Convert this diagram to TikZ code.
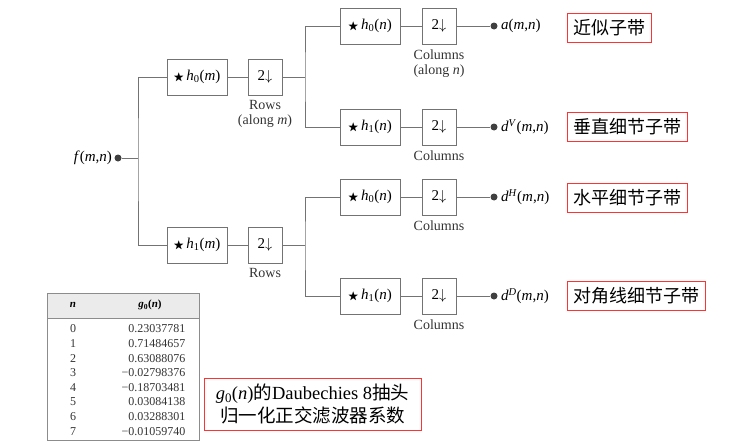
\documentclass[tikz,border=0pt]{standalone}
\usepackage{amssymb}
\usepackage{fontspec}
\setmainfont{Liberation Serif}
\newfontfamily\cjk{Noto Sans CJK SC}
\newcommand{\iv}[1]{\textit{#1}}
\newcommand{\conv}{{\fontsize{11}{12}\selectfont$\bigstar$}\,}
\begin{document}
\begin{tikzpicture}[x=1pt,y=-1pt,
  line width=0.6pt,
  wire/.style={draw=black!55},
  filt/.style={draw=black!55,minimum width=60pt,minimum height=36pt,inner sep=0pt,font=\fontsize{15}{17}\selectfont},
  down/.style={draw=black!55,minimum width=34pt,minimum height=36pt,inner sep=0pt,font=\fontsize{15}{17}\selectfont},
  note/.style={font=\fontsize{14}{15}\selectfont,align=center,anchor=north,text=black!80},
  pt/.style={circle,fill=black!75,inner sep=0pt,minimum size=7pt},
  outlbl/.style={anchor=west,inner sep=3pt,font=\fontsize{15}{17}\selectfont},
  band/.style={draw=red!80,line width=0.9pt,inner sep=6pt,font=\cjk\fontsize{18}{20}\selectfont,anchor=west}]
\useasboundingbox (0,0) rectangle (741,447);
% input
\node[pt] (in) at (118,158) {};
\node[anchor=east,inner sep=2pt,font=\fontsize{15}{17}\selectfont] at (in.west) {\iv{f}(\iv{m},\iv{n})};
\coordinate (split) at (138,158);
% row stage
\node[filt] (h0m) at (197,77) {\conv\iv{h}\textsubscript{0}(\iv{m})};
\node[down] (d0m) at (265,77) {2$\downarrow$};
\node[filt] (h1m) at (197,245) {\conv\iv{h}\textsubscript{1}(\iv{m})};
\node[down] (d1m) at (265,245) {2$\downarrow$};
\node[note] at (265,97) {Rows\\(along \iv{m})};
\node[note] at (265,265) {Rows};
\draw[wire] (in) -- (split) (h0m.west) -| (split) |- (h1m.west);
\draw[wire] (h0m) -- (d0m) (h1m) -- (d1m);
% column stages
\foreach \y/\k/\col/\nm in {26/0/{Columns\\(along \iv{n})}/a,127/1/Columns/b,197/0/Columns/c,296/1/Columns/d}{
  \node[filt] (hn\nm) at (370,\y) {\conv\iv{h}\textsubscript{\k}(\iv{n})};
  \node[down] (dn\nm) at (439,\y) {2$\downarrow$};
  \node[pt] (o\nm) at (494,\y) {};
  \node[note] at (439,\y+20) {\col};
  \draw[wire] (hn\nm) -- (dn\nm) -- (o\nm);
}
\coordinate (tA) at (305,77);
\coordinate (tB) at (305,245);
\draw[wire] (d0m) -- (tA) (hna.west) -| (tA) |- (hnb.west);
\draw[wire] (d1m) -- (tB) (hnc.west) -| (tB) |- (hnd.west);
\node[outlbl] at (oa.east) {\iv{a}(\iv{m},\iv{n})};
\node[outlbl] at (ob.east) {\iv{d}\textsuperscript{\iv{V}}(\iv{m},\iv{n})};
\node[outlbl] at (oc.east) {\iv{d}\textsuperscript{\iv{H}}(\iv{m},\iv{n})};
\node[outlbl] at (od.east) {\iv{d}\textsuperscript{\iv{D}}(\iv{m},\iv{n})};
\node[band] at (567,28) {近似子带};
\node[band] at (567,127) {垂直细节子带};
\node[band] at (567,198) {水平细节子带};
\node[band] at (567,296) {对角线细节子带};
% table
\fill[black!8] (47,293) rectangle (199,318);
\draw[black!45] (47,293) rectangle (199,440) (47,318) -- (199,318);
\node[font=\fontsize{11}{12}\selectfont\bfseries\itshape] at (73,305) {n};
\node[font=\fontsize{11}{12}\selectfont\bfseries] at (150,305) {\iv{g}\textsubscript{0}(\iv{n})};
\foreach \v [count=\i from 0] in {0.23037781,0.71484657,0.63088076,\textminus0.02798376,\textminus0.18703481,0.03084138,0.03288301,\textminus0.01059740}{
  \node[font=\fontsize{12}{12}\selectfont,text=black!80] at (73,329+14.6*\i) {\i};
  \node[font=\fontsize{12}{12}\selectfont,text=black!80,anchor=east] at (189,329+14.6*\i) {\v};
}
\node[draw=red!80,line width=0.9pt,minimum width=217pt,minimum height=52pt,align=center,font=\fontsize{18.5}{23}\selectfont] (cap) at (312.5,404) {\iv{g}\textsubscript{0}(\iv{n}){\cjk 的}Daubechies 8{\cjk 抽头}\\{\cjk 归一化正交滤波器系数}};
\end{tikzpicture}
\end{document}
